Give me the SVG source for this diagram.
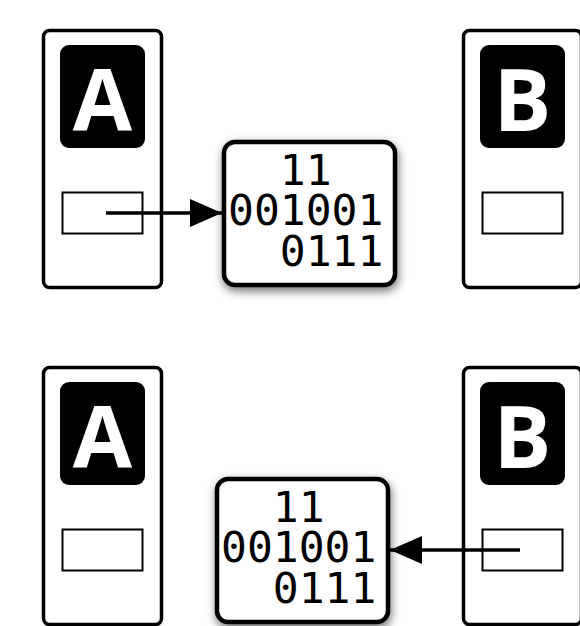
<svg xmlns="http://www.w3.org/2000/svg" width="580" height="626" viewBox="0 0 580 626">
  <style>
    .case { fill: #fff; stroke: #000; stroke-width: 3.5; }
    .badge { fill: #000; }
    .letter { font-family: "Open Sans", "DejaVu Sans", sans-serif; font-weight: bold; font-size: 86px; fill: #fff; text-anchor: middle; }
    .slot { fill: #fff; stroke: #000; stroke-width: 2; }
    .packet { fill: #fff; stroke: #000; stroke-width: 4.5; }
    .bits { font-family: "DejaVu Sans Mono", "Liberation Mono", monospace; font-size: 43px; fill: #000; }
    .wire { fill: none; stroke: #000; stroke-width: 3.5; }
  </style>
  <defs>
    <filter id="shadow" x="-25%" y="-25%" width="150%" height="150%">
      <feDropShadow dx="1" dy="4" stdDeviation="5" flood-color="#000" flood-opacity="0.55"/>
    </filter>
    <marker id="head" markerUnits="userSpaceOnUse" markerWidth="34" markerHeight="30" refX="32" refY="14" orient="auto">
      <path d="M0,0 L32,14 L0,28 Z" fill="#000"/>
    </marker>
  </defs>

  <!-- top row: A sends the packet -->
  <g id="computer-a-top">
    <rect class="case" x="43.5" y="30.5" width="118" height="257" rx="6"/>
    <rect class="badge" x="60" y="45" width="85" height="103" rx="9"/>
    <text class="letter" x="102.5" y="131">A</text>
    <rect class="slot" x="62.5" y="192.5" width="80" height="41"/>
  </g>
  <g id="packet-top">
    <rect class="packet" x="224" y="142" width="171" height="143" rx="11" filter="url(#shadow)"/>
    <text class="bits">
      <tspan x="279.8" y="185">11</tspan>
      <tspan x="228" y="225">001001</tspan>
      <tspan x="279.8" y="266">0111</tspan>
    </text>
  </g>
  <g id="computer-b-top">
    <rect class="case" x="463.5" y="30.5" width="118" height="257" rx="6"/>
    <rect class="badge" x="480" y="45" width="85" height="103" rx="9"/>
    <text class="letter" x="522.5" y="131">B</text>
    <rect class="slot" x="482.5" y="192.5" width="80" height="41"/>
  </g>

  <!-- bottom row: B sends the packet -->
  <g id="computer-a-bottom">
    <rect class="case" x="43.5" y="367.5" width="118" height="257" rx="6"/>
    <rect class="badge" x="60" y="382" width="85" height="103" rx="9"/>
    <text class="letter" x="102.5" y="468">A</text>
    <rect class="slot" x="62.5" y="529.5" width="80" height="41"/>
  </g>
  <g id="packet-bottom">
    <rect class="packet" x="217" y="479" width="171" height="143" rx="11" filter="url(#shadow)"/>
    <text class="bits">
      <tspan x="272.8" y="522">11</tspan>
      <tspan x="221" y="562">001001</tspan>
      <tspan x="272.8" y="603">0111</tspan>
    </text>
  </g>
  <g id="computer-b-bottom">
    <rect class="case" x="463.5" y="367.5" width="118" height="257" rx="6"/>
    <rect class="badge" x="480" y="382" width="85" height="103" rx="9"/>
    <text class="letter" x="522.5" y="468">B</text>
    <rect class="slot" x="482.5" y="529.5" width="80" height="41"/>
  </g>

  <g id="connectors">
    <line class="wire" x1="106" y1="213" x2="222" y2="213" marker-end="url(#head)"/>
    <line class="wire" x1="520" y1="550" x2="390" y2="550" marker-end="url(#head)"/>
  </g>
</svg>
